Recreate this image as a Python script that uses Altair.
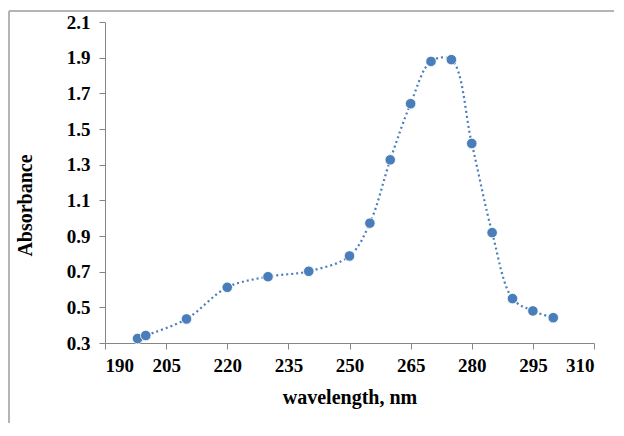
import altair as alt
import pandas as pd

wavelength = [198, 200, 210, 220, 230, 240, 250, 255, 260, 265, 270, 275, 280, 285, 290, 295, 300]
absorbance = [0.325, 0.342, 0.435, 0.612, 0.672, 0.702, 0.788, 0.972, 1.327, 1.642, 1.879, 1.889,
              1.419, 0.919, 0.549, 0.480, 0.442]

df = pd.DataFrame({"wavelength": wavelength, "absorbance": absorbance})

FONT = "Liberation Serif"
BLUE = "#4a7ebb"
AXIS = "#868686"

x = alt.X("wavelength:Q", scale=alt.Scale(domain=[190, 310], nice=False, zero=False),
          axis=alt.Axis(values=list(range(190, 311, 15)), title="wavelength, nm", grid=False,
                        domainColor=AXIS, tickColor=AXIS, tickSize=6, labelFont=FONT,
                        labelFontSize=19, labelFontWeight="bold", labelColor="black",
                        titleFont=FONT, titleFontSize=20, titleFontWeight="bold",
                        titleColor="black", titlePadding=12, labelPadding=7))
y = alt.Y("absorbance:Q", scale=alt.Scale(domain=[0.3, 2.1], nice=False, zero=False),
          axis=alt.Axis(values=[0.3, 0.5, 0.7, 0.9, 1.1, 1.3, 1.5, 1.7, 1.9, 2.1], format=".1f",
                        title="Absorbance", grid=False, domainColor=AXIS, tickColor=AXIS,
                        tickSize=6, labelFont=FONT, labelFontSize=19, labelFontWeight="bold",
                        labelColor="black", titleFont=FONT, titleFontSize=20,
                        titleFontWeight="bold", titleColor="black", titlePadding=31,
                        titleY=183, labelPadding=9))

base = alt.Chart(df)
line = base.mark_line(interpolate="catmull-rom", strokeDash=[2, 3], strokeWidth=2.2,
                      color=BLUE).encode(x=x, y=y)
pts = base.mark_circle(size=110, color=BLUE, opacity=1, stroke="white",
                       strokeWidth=0.8).encode(x=x, y=y)

frame_top = alt.Chart(pd.DataFrame({"k": [0]})).mark_rule(color="#b4b4b4", strokeWidth=2).encode(
    x=alt.value(-96), x2=alt.value(509), y=alt.value(-11))
frame_left = alt.Chart(pd.DataFrame({"k": [0]})).mark_rule(color="#b4b4b4", strokeWidth=2).encode(
    x=alt.value(-96), y=alt.value(-11), y2=alt.value(401))

chart = alt.layer(frame_top, frame_left, line, pts).properties(
    width=489, height=321,
    autosize=alt.AutoSizeParams(type="none"),
    padding={"left": 97, "top": 14, "right": 20, "bottom": 80},
).configure_view(stroke=None)

chart.save("out.html", embed_options={"renderer": "svg", "actions": False})
